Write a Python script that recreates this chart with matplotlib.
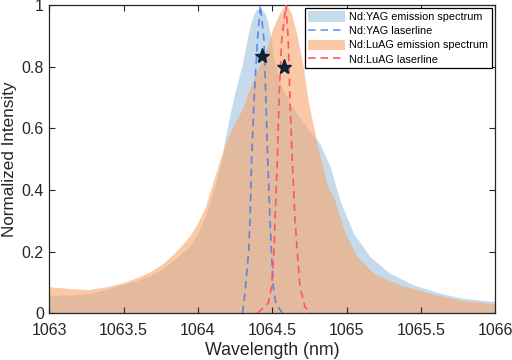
import matplotlib
matplotlib.use('Agg')
import matplotlib.pyplot as plt

plt.rcParams['font.family'] = ['Liberation Sans', 'DejaVu Sans']

# emission spectra
yag_wl = [1063.00, 1063.15, 1063.27, 1063.40, 1063.50, 1063.60, 1063.68, 1063.76, 1063.83,
          1063.90, 1063.95, 1064.00, 1064.05, 1064.10, 1064.15, 1064.18, 1064.215, 1064.25,
          1064.294, 1064.338, 1064.36, 1064.39, 1064.42, 1064.45, 1064.47, 1064.49, 1064.51,
          1064.55, 1064.62, 1064.70, 1064.78, 1064.82, 1064.89, 1064.955, 1065.045, 1065.157,
          1065.29, 1065.45, 1065.63, 1065.78, 1066.00]
yag_int = [0.059, 0.060, 0.064, 0.080, 0.095, 0.108, 0.122, 0.145, 0.170,
           0.198, 0.222, 0.262, 0.315, 0.39, 0.48, 0.56, 0.645, 0.72,
           0.80, 0.905, 0.95, 0.985, 0.99, 0.975, 0.945, 0.895, 0.83,
           0.75, 0.68, 0.625, 0.575, 0.551, 0.475, 0.367, 0.26, 0.184,
           0.13, 0.092, 0.065, 0.049, 0.038]

luag_wl = [1063.00, 1063.15, 1063.27, 1063.40, 1063.50, 1063.60, 1063.68, 1063.76, 1063.83,
           1063.90, 1063.95, 1064.00, 1064.05, 1064.10, 1064.15, 1064.20, 1064.25, 1064.30,
           1064.36, 1064.42, 1064.46, 1064.50, 1064.54, 1064.57, 1064.60, 1064.63, 1064.664,
           1064.708, 1064.74, 1064.787, 1064.81, 1064.84, 1064.865, 1064.92, 1064.99, 1065.07,
           1065.18, 1065.36, 1065.56, 1065.76, 1066.00]
luag_int = [0.086, 0.080, 0.077, 0.088, 0.100, 0.118, 0.135, 0.160, 0.19,
            0.225, 0.255, 0.295, 0.345, 0.425, 0.50, 0.57, 0.62, 0.665,
            0.745, 0.81, 0.855, 0.92, 0.965, 0.99, 1.0, 0.97, 0.908,
            0.80, 0.692, 0.584, 0.53, 0.475, 0.42, 0.367, 0.26, 0.184,
            0.13, 0.092, 0.065, 0.043, 0.03]

# laser lines
yag_line_wl = [1064.30, 1064.32, 1064.34, 1064.35, 1064.361, 1064.377, 1064.40, 1064.42,
               1064.444, 1064.457, 1064.469, 1064.484, 1064.495, 1064.506, 1064.525, 1064.57]
yag_line_int = [0.0, 0.086, 0.195, 0.30, 0.50, 0.69, 0.886, 1.0,
                0.886, 0.69, 0.50, 0.31, 0.195, 0.086, 0.03, 0.0]

luag_line_wl = [1064.40, 1064.473, 1064.495, 1064.511, 1064.518, 1064.534, 1064.545, 1064.563,
                1064.592, 1064.607, 1064.619, 1064.634, 1064.653, 1064.669, 1064.686, 1064.72,
                1064.765]
luag_line_int = [0.0, 0.033, 0.086, 0.195, 0.30, 0.50, 0.69, 0.886,
                 1.0, 0.886, 0.69, 0.50, 0.30, 0.195, 0.086, 0.02,
                 0.0]

# star markers
star_wl = [1064.428, 1064.58]
star_int = [0.835, 0.80]

fig = plt.figure(figsize=[5.12, 3.6], dpi=100)
ax = fig.add_axes([0.0963, 0.1297, 0.8711, 0.8564])

ax.fill_between(yag_wl, 0, yag_int, color='#599ac7', alpha=0.35, lw=0,
                label='Nd:YAG emission spectrum')
ax.plot(yag_line_wl, yag_line_int, color='#2a6cf0', alpha=0.7, lw=1.2,
        dashes=(4.5, 3), label='Nd:YAG laserline', zorder=3)
ax.fill_between(luag_wl, 0, luag_int, color='#faa56b', alpha=0.6, lw=0,
                label='Nd:LuAG emission spectrum')
ax.plot(luag_line_wl, luag_line_int, color='#ff5566', lw=1.2,
        dashes=(4.5, 3), label='Nd:LuAG laserline', zorder=3)
ax.plot(star_wl, star_int, ls='none', marker='*', ms=11, color='#0d2137', zorder=4)

ax.set_xlim(1063, 1066)
ax.set_ylim(0, 1)
ax.set_xticks([1063, 1063.5, 1064, 1064.5, 1065, 1065.5, 1066])
ax.set_xticklabels(['1063', '1063.5', '1064', '1064.5', '1065', '1065.5', '1066'])
ax.set_yticks([0, 0.2, 0.4, 0.6, 0.8, 1])
ax.set_yticklabels(['0', '0.2', '0.4', '0.6', '0.8', '1'])
ax.tick_params(direction='in', top=True, right=True, length=4, width=0.8,
               labelsize=11.5, colors='#262626')
ax.tick_params(axis='x', pad=7)
ax.tick_params(axis='y', pad=4)
for sp in ax.spines.values():
    sp.set_color('#262626')
    sp.set_linewidth(0.9)
ax.set_xlabel('Wavelength (nm)', fontsize=12.8, color='#262626', labelpad=3)
ax.set_ylabel('Normalized Intensity', fontsize=12.3, color='#262626', labelpad=3)

leg = ax.legend(loc='upper right', bbox_to_anchor=(0.9915, 0.99), borderaxespad=0,
                fontsize=7.8, handlelength=3.4, handleheight=1.1, labelspacing=0.3,
                fancybox=False, framealpha=1, edgecolor='black', borderpad=0.3,
                handletextpad=0.4)
leg.get_frame().set_linewidth(0.9)

fig.savefig('out.png', dpi=100)
